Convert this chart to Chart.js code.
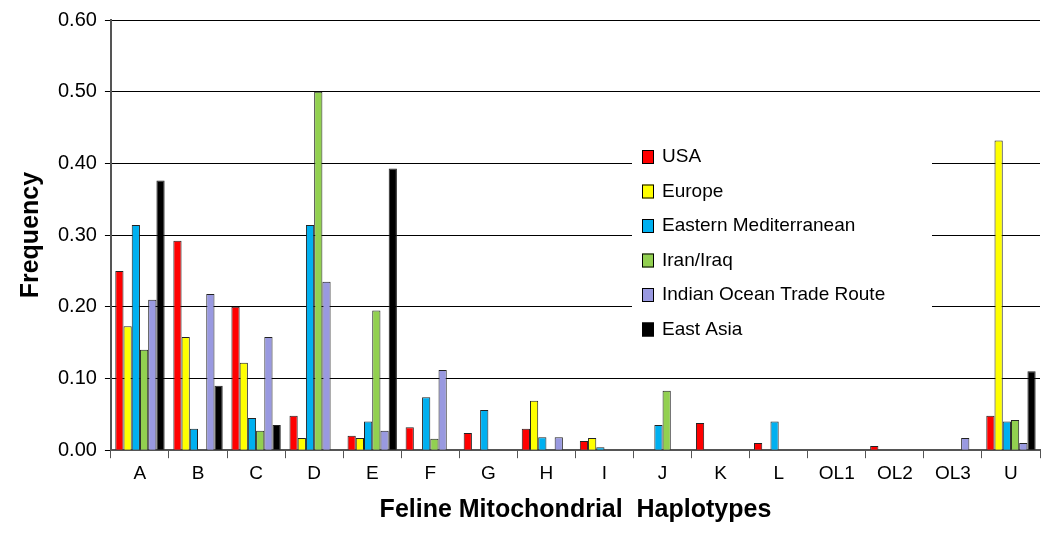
<!DOCTYPE html>
<html>
<head>
<meta charset="utf-8">
<script src="https://cdn.jsdelivr.net/npm/chart.js@4/dist/chart.umd.min.js"></script>
<style>
  body { margin: 0; background: #fff; }
  #wrap { width: 1050px; height: 539px; }
</style>
</head>
<body>
<div id="wrap"><canvas id="chart"></canvas></div>
<script>
let haplotypes = ["A", "B", "C", "D", "E", "F", "G", "H", "I", "J", "K", "L", "OL1", "OL2", "OL3", "U"];
let usa      = [0.25, 0.292, 0.2, 0.048, 0.02, 0.032, 0.024, 0.03, 0.013, 0, 0.038, 0.01, 0, 0.006, 0, 0.048];
let europe   = [0.173, 0.158, 0.122, 0.017, 0.017, 0, 0, 0.069, 0.017, 0, 0, 0, 0, 0, 0, 0.432];
let eastMed  = [0.314, 0.03, 0.045, 0.314, 0.04, 0.074, 0.056, 0.018, 0.004, 0.035, 0, 0.04, 0, 0, 0, 0.04];
let iranIraq = [0.14, 0, 0.027, 0.5, 0.195, 0.016, 0, 0, 0, 0.083, 0, 0, 0, 0, 0, 0.042];
let indian   = [0.21, 0.218, 0.158, 0.235, 0.027, 0.112, 0, 0.018, 0, 0, 0, 0, 0, 0, 0.017, 0.01];
let eastAsia = [0.376, 0.09, 0.035, 0, 0.393, 0, 0, 0, 0, 0, 0, 0, 0, 0, 0, 0.11];

let seriesNames = ["USA", "Europe", "Eastern Mediterranean", "Iran/Iraq", "Indian Ocean Trade Route", "East Asia"];
let seriesColors = ["#ff0000", "#ffff00", "#00b0f0", "#92d050", "#9999e0", "#000000"];
let seriesData = [usa, europe, eastMed, iranIraq, indian, eastAsia];

// legend drawn inside the plot, on a white box
let boxLegend = {
  id: "boxLegend",
  afterDraw(chart) {
    let c = chart.ctx;
    let x = 640, y = 143;
    c.save();
    c.fillStyle = "#fff";
    c.fillRect(x - 8, y, 300, 200);
    c.font = "19px 'Liberation Sans', Arial, sans-serif";
    c.textBaseline = "middle";
    seriesNames.forEach((name, i) => {
      let yy = y + 14 + i * 34.5;
      c.fillStyle = seriesColors[i];
      c.fillRect(x + 2, yy - 7, 12, 14);
      c.strokeStyle = "#000";
      c.lineWidth = 1;
      c.strokeRect(x + 2.5, yy - 6.5, 11, 13);
      c.fillStyle = "#000";
      c.fillText(name, x + 22, yy);
    });
    c.restore();
  }
};

new Chart(document.getElementById("chart"), {
  type: "bar",
  data: {
    labels: haplotypes,
    datasets: seriesNames.map((name, i) => ({
      label: name,
      data: seriesData[i],
      backgroundColor: seriesColors[i],
      borderColor: "#222",
      borderWidth: 1,
      categoryPercentage: 0.85,
      barPercentage: 1,
    })),
  },
  options: {
    responsive: true,
    maintainAspectRatio: false,
    animation: false,
    layout: { padding: { left: 12, right: 10, top: 4, bottom: 10 } },
    plugins: { legend: { display: false }, tooltip: { enabled: false } },
    scales: {
      x: {
        grid: { display: true, drawOnChartArea: false, drawTicks: true, tickLength: 8, color: "#555", offset: true },
        border: { color: "#555", width: 2 },
        ticks: { color: "#000", padding: 4, font: { family: "'Liberation Sans', Arial", size: 19 } },
        title: { display: true, text: "Feline Mitochondrial  Haplotypes", color: "#000",
          font: { family: "'Liberation Sans', Arial", size: 25, weight: "bold" }, padding: { top: 6 } },
      },
      y: {
        min: 0, max: 0.6,
        ticks: { stepSize: 0.1, color: "#000", padding: 8,
          font: { family: "'Liberation Sans', Arial", size: 20 },
          callback: (v) => v.toFixed(2) },
        grid: { color: "#000", lineWidth: 1, drawTicks: true, tickLength: 6 },
        border: { color: "#555", width: 2 },
        title: { display: true, text: "Frequency", color: "#000",
          font: { family: "'Liberation Sans', Arial", size: 25, weight: "bold" } },
      },
    },
  },
  plugins: [boxLegend],
});
</script>
</body>
</html>
